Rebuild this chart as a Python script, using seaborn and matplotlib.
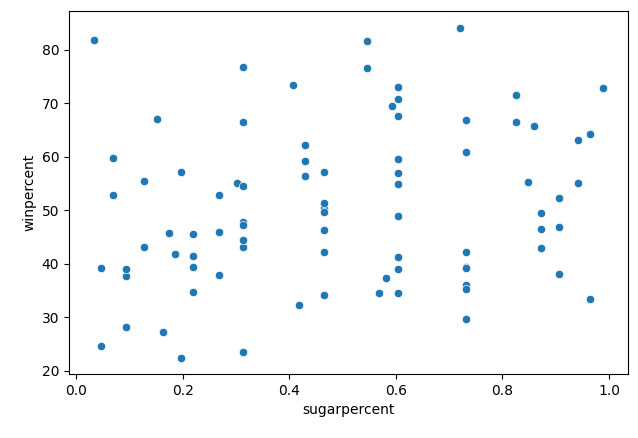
import matplotlib
matplotlib.use("Agg")
import matplotlib.pyplot as plt
import pandas as pd
import seaborn as sns

sugarpercent = [
    0.732, 0.604, 0.906, 0.465, 0.604, 0.313, 0.906, 0.604, 0.604, 0.732,
    0.046, 0.732, 0.732, 0.127, 0.732, 0.906, 0.465, 0.465, 0.465, 0.465,
    0.127, 0.430, 0.430, 0.430, 0.093, 0.197, 0.313, 0.220, 0.046, 0.267,
    0.825, 0.825, 0.872, 0.302, 0.604, 0.732, 0.965, 0.313, 0.313, 0.848,
    0.604, 0.313, 0.197, 0.220, 0.465, 0.593, 0.093, 0.604, 0.581, 0.034,
    0.720, 0.406, 0.988, 0.732, 0.860, 0.732, 0.872, 0.220, 0.941, 0.941,
    0.267, 0.267, 0.546, 0.604, 0.069, 0.069, 0.151, 0.569, 0.965, 0.418,
    0.162, 0.604, 0.604, 0.313, 0.174, 0.465, 0.313, 0.546, 0.220, 0.093,
    0.313, 0.186, 0.872,
]
winpercent = [
    66.97, 67.60, 52.34, 50.35, 56.91, 23.42, 38.01, 34.52, 38.98, 36.02,
    24.52, 42.27, 39.46, 43.09, 39.19, 46.78, 57.12, 34.16, 51.41, 42.18,
    55.38, 62.28, 56.49, 59.24, 28.13, 57.22, 76.77, 41.39, 39.14, 52.91,
    71.47, 66.57, 46.41, 55.06, 73.10, 60.80, 64.35, 47.83, 54.53, 55.35,
    70.74, 66.47, 22.45, 39.45, 46.30, 69.48, 37.72, 41.27, 37.35, 81.87,
    84.18, 73.43, 72.89, 35.29, 65.72, 29.70, 42.85, 34.72, 63.08, 55.10,
    37.89, 45.99, 76.67, 59.53, 59.86, 52.83, 67.04, 34.58, 33.44, 32.23,
    27.30, 54.86, 48.98, 43.07, 45.74, 49.65, 47.17, 81.64, 45.47, 39.01,
    44.38, 41.90, 49.52,
]

df = pd.DataFrame({"sugarpercent": sugarpercent, "winpercent": winpercent})

fig, ax = plt.subplots(figsize=(6.38, 4.38), dpi=100)
sns.scatterplot(data=df, x="sugarpercent", y="winpercent", ax=ax)
# axes box in pixels: left 69, right 628, top 11, bottom 374
ax.set_position([69 / 638, (438 - 374) / 438, 559 / 638, 363 / 438])
fig.savefig("out.png", dpi=100)
